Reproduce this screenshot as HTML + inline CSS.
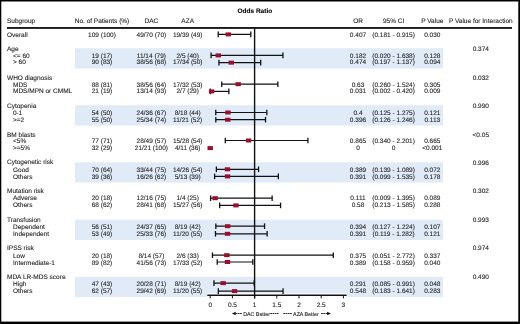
<!DOCTYPE html>
<html><head><meta charset="utf-8"><title>Odds Ratio forest plot</title>
<style>
html,body{margin:0;padding:0;background:#fff;}
body{width:520px;height:324px;overflow:hidden;}
svg{display:block;will-change:transform;font-family:"Liberation Sans",sans-serif;}
text{stroke:#1e1e1e;stroke-width:0.1px;text-rendering:geometricPrecision;}
</style></head>
<body>
<svg width="520" height="324" viewBox="0 0 520 324">
<rect x="0.00" y="0.00" width="520.00" height="324.00" fill="#000"/>
<rect x="1.30" y="1.50" width="517.00" height="320.10" fill="#fff"/>
<rect x="75.00" y="48.20" width="368.00" height="20.30" fill="#e1ebf8"/>
<rect x="75.00" y="105.23" width="368.00" height="20.30" fill="#e1ebf8"/>
<rect x="75.00" y="162.26" width="368.00" height="20.30" fill="#e1ebf8"/>
<rect x="75.00" y="219.69" width="368.00" height="20.30" fill="#e1ebf8"/>
<rect x="75.00" y="276.82" width="368.00" height="20.20" fill="#e1ebf8"/>
<text x="254.85" y="12.60" text-anchor="middle" font-size="6.5" font-weight="bold" fill="#000">Odds Ratio</text>
<text x="7.00" y="22.70" text-anchor="start" font-size="6.5" font-weight="normal" fill="#1e1e1e">Subgroup</text>
<text x="102.00" y="22.70" text-anchor="middle" font-size="6.5" font-weight="normal" fill="#1e1e1e">No. of Patients (%)</text>
<text x="151.40" y="22.70" text-anchor="middle" font-size="6.5" font-weight="normal" fill="#1e1e1e">DAC</text>
<text x="187.70" y="22.70" text-anchor="middle" font-size="6.5" font-weight="normal" fill="#1e1e1e">AZA</text>
<text x="358.00" y="22.70" text-anchor="middle" font-size="6.5" font-weight="normal" fill="#1e1e1e">OR</text>
<text x="393.60" y="22.70" text-anchor="middle" font-size="6.5" font-weight="normal" fill="#1e1e1e">95% CI</text>
<text x="432.30" y="22.70" text-anchor="middle" font-size="6.5" font-weight="normal" fill="#1e1e1e">P Value</text>
<text x="480.80" y="22.70" text-anchor="middle" font-size="6.5" font-weight="normal" fill="#1e1e1e">P Value for Interaction</text>
<rect x="7.00" y="27.00" width="505.00" height="1.90" fill="#1a1a1a"/>
<text x="7.00" y="36.75" text-anchor="start" font-size="6.5" font-weight="normal" fill="#1e1e1e">Overall</text>
<text x="102.00" y="36.75" text-anchor="middle" font-size="6.5" font-weight="normal" fill="#1e1e1e">109 (100)</text>
<text x="151.40" y="36.75" text-anchor="middle" font-size="6.5" font-weight="normal" fill="#1e1e1e">49/70 (70)</text>
<text x="187.70" y="36.75" text-anchor="middle" font-size="6.5" font-weight="normal" fill="#1e1e1e">19/39 (49)</text>
<text x="358.00" y="36.75" text-anchor="middle" font-size="6.5" font-weight="normal" fill="#1e1e1e">0.407</text>
<text x="393.60" y="36.75" text-anchor="middle" font-size="6.5" font-weight="normal" fill="#1e1e1e">(0.181 - 0.915)</text>
<text x="432.30" y="36.75" text-anchor="middle" font-size="6.5" font-weight="normal" fill="#1e1e1e">0.030</text>
<text x="7.00" y="51.10" text-anchor="start" font-size="6.5" font-weight="normal" fill="#1e1e1e">Age</text>
<text x="480.80" y="51.10" text-anchor="middle" font-size="6.5" font-weight="normal" fill="#1e1e1e">0.374</text>
<text x="13.00" y="58.24" text-anchor="start" font-size="6.5" font-weight="normal" fill="#1e1e1e">&lt;= 60</text>
<text x="102.00" y="58.24" text-anchor="middle" font-size="6.5" font-weight="normal" fill="#1e1e1e">19 (17)</text>
<text x="151.40" y="58.24" text-anchor="middle" font-size="6.5" font-weight="normal" fill="#1e1e1e">11/14 (79)</text>
<text x="187.70" y="58.24" text-anchor="middle" font-size="6.5" font-weight="normal" fill="#1e1e1e">2/5 (40)</text>
<text x="358.00" y="58.24" text-anchor="middle" font-size="6.5" font-weight="normal" fill="#1e1e1e">0.182</text>
<text x="393.60" y="58.24" text-anchor="middle" font-size="6.5" font-weight="normal" fill="#1e1e1e">(0.020 - 1.638)</text>
<text x="432.30" y="58.24" text-anchor="middle" font-size="6.5" font-weight="normal" fill="#1e1e1e">0.128</text>
<text x="13.00" y="64.10" text-anchor="start" font-size="6.5" font-weight="normal" fill="#1e1e1e">&gt; 60</text>
<text x="102.00" y="64.10" text-anchor="middle" font-size="6.5" font-weight="normal" fill="#1e1e1e">90 (83)</text>
<text x="151.40" y="64.10" text-anchor="middle" font-size="6.5" font-weight="normal" fill="#1e1e1e">38/56 (68)</text>
<text x="187.70" y="64.10" text-anchor="middle" font-size="6.5" font-weight="normal" fill="#1e1e1e">17/34 (50)</text>
<text x="358.00" y="64.10" text-anchor="middle" font-size="6.5" font-weight="normal" fill="#1e1e1e">0.474</text>
<text x="393.60" y="64.10" text-anchor="middle" font-size="6.5" font-weight="normal" fill="#1e1e1e">(0.197 - 1.137)</text>
<text x="432.30" y="64.10" text-anchor="middle" font-size="6.5" font-weight="normal" fill="#1e1e1e">0.094</text>
<text x="7.00" y="79.58" text-anchor="start" font-size="6.5" font-weight="normal" fill="#1e1e1e">WHO diagnosis</text>
<text x="480.80" y="79.58" text-anchor="middle" font-size="6.5" font-weight="normal" fill="#1e1e1e">0.032</text>
<text x="13.00" y="86.52" text-anchor="start" font-size="6.5" font-weight="normal" fill="#1e1e1e">MDS</text>
<text x="102.00" y="86.52" text-anchor="middle" font-size="6.5" font-weight="normal" fill="#1e1e1e">88 (81)</text>
<text x="151.40" y="86.52" text-anchor="middle" font-size="6.5" font-weight="normal" fill="#1e1e1e">38/56 (64)</text>
<text x="187.70" y="86.52" text-anchor="middle" font-size="6.5" font-weight="normal" fill="#1e1e1e">17/32 (53)</text>
<text x="358.00" y="86.52" text-anchor="middle" font-size="6.5" font-weight="normal" fill="#1e1e1e">0.63</text>
<text x="393.60" y="86.52" text-anchor="middle" font-size="6.5" font-weight="normal" fill="#1e1e1e">(0.260 - 1.524)</text>
<text x="432.30" y="86.52" text-anchor="middle" font-size="6.5" font-weight="normal" fill="#1e1e1e">0.305</text>
<text x="13.00" y="93.47" text-anchor="start" font-size="6.5" font-weight="normal" fill="#1e1e1e">MDS/MPN or CMML</text>
<text x="102.00" y="93.47" text-anchor="middle" font-size="6.5" font-weight="normal" fill="#1e1e1e">21 (19)</text>
<text x="151.40" y="93.47" text-anchor="middle" font-size="6.5" font-weight="normal" fill="#1e1e1e">13/14 (93)</text>
<text x="187.70" y="93.47" text-anchor="middle" font-size="6.5" font-weight="normal" fill="#1e1e1e">2/7 (29)</text>
<text x="358.00" y="93.47" text-anchor="middle" font-size="6.5" font-weight="normal" fill="#1e1e1e">0.031</text>
<text x="393.60" y="93.47" text-anchor="middle" font-size="6.5" font-weight="normal" fill="#1e1e1e">(0.002 - 0.420)</text>
<text x="432.30" y="93.47" text-anchor="middle" font-size="6.5" font-weight="normal" fill="#1e1e1e">0.009</text>
<text x="7.00" y="108.05" text-anchor="start" font-size="6.5" font-weight="normal" fill="#1e1e1e">Cytopenia</text>
<text x="480.80" y="108.05" text-anchor="middle" font-size="6.5" font-weight="normal" fill="#1e1e1e">0.990</text>
<text x="13.00" y="115.19" text-anchor="start" font-size="6.5" font-weight="normal" fill="#1e1e1e">0-1</text>
<text x="102.00" y="115.19" text-anchor="middle" font-size="6.5" font-weight="normal" fill="#1e1e1e">54 (50)</text>
<text x="151.40" y="115.19" text-anchor="middle" font-size="6.5" font-weight="normal" fill="#1e1e1e">24/36 (67)</text>
<text x="187.70" y="115.19" text-anchor="middle" font-size="6.5" font-weight="normal" fill="#1e1e1e">8/18 (44)</text>
<text x="358.00" y="115.19" text-anchor="middle" font-size="6.5" font-weight="normal" fill="#1e1e1e">0.4</text>
<text x="393.60" y="115.19" text-anchor="middle" font-size="6.5" font-weight="normal" fill="#1e1e1e">(0.125 - 1.275)</text>
<text x="432.30" y="115.19" text-anchor="middle" font-size="6.5" font-weight="normal" fill="#1e1e1e">0.121</text>
<text x="13.00" y="122.15" text-anchor="start" font-size="6.5" font-weight="normal" fill="#1e1e1e">&gt;=2</text>
<text x="102.00" y="122.15" text-anchor="middle" font-size="6.5" font-weight="normal" fill="#1e1e1e">55 (50)</text>
<text x="151.40" y="122.15" text-anchor="middle" font-size="6.5" font-weight="normal" fill="#1e1e1e">25/34 (74)</text>
<text x="187.70" y="122.15" text-anchor="middle" font-size="6.5" font-weight="normal" fill="#1e1e1e">11/21 (52)</text>
<text x="358.00" y="122.15" text-anchor="middle" font-size="6.5" font-weight="normal" fill="#1e1e1e">0.396</text>
<text x="393.60" y="122.15" text-anchor="middle" font-size="6.5" font-weight="normal" fill="#1e1e1e">(0.126 - 1.246)</text>
<text x="432.30" y="122.15" text-anchor="middle" font-size="6.5" font-weight="normal" fill="#1e1e1e">0.113</text>
<text x="7.00" y="136.53" text-anchor="start" font-size="6.5" font-weight="normal" fill="#1e1e1e">BM blasts</text>
<text x="480.80" y="136.53" text-anchor="middle" font-size="6.5" font-weight="normal" fill="#1e1e1e">&lt;0.05</text>
<text x="13.00" y="142.97" text-anchor="start" font-size="6.5" font-weight="normal" fill="#1e1e1e">&lt;5%</text>
<text x="102.00" y="142.97" text-anchor="middle" font-size="6.5" font-weight="normal" fill="#1e1e1e">77 (71)</text>
<text x="151.40" y="142.97" text-anchor="middle" font-size="6.5" font-weight="normal" fill="#1e1e1e">28/49 (57)</text>
<text x="187.70" y="142.97" text-anchor="middle" font-size="6.5" font-weight="normal" fill="#1e1e1e">15/28 (54)</text>
<text x="358.00" y="142.97" text-anchor="middle" font-size="6.5" font-weight="normal" fill="#1e1e1e">0.865</text>
<text x="393.60" y="142.97" text-anchor="middle" font-size="6.5" font-weight="normal" fill="#1e1e1e">(0.340 - 2.201)</text>
<text x="432.30" y="142.97" text-anchor="middle" font-size="6.5" font-weight="normal" fill="#1e1e1e">0.665</text>
<text x="13.00" y="149.93" text-anchor="start" font-size="6.5" font-weight="normal" fill="#1e1e1e">&gt;=5%</text>
<text x="102.00" y="149.93" text-anchor="middle" font-size="6.5" font-weight="normal" fill="#1e1e1e">32 (29)</text>
<text x="151.40" y="149.93" text-anchor="middle" font-size="6.5" font-weight="normal" fill="#1e1e1e">21/21 (100)</text>
<text x="187.70" y="149.93" text-anchor="middle" font-size="6.5" font-weight="normal" fill="#1e1e1e">4/11 (36)</text>
<text x="358.00" y="149.93" text-anchor="middle" font-size="6.5" font-weight="normal" fill="#1e1e1e">0</text>
<text x="393.60" y="149.93" text-anchor="middle" font-size="6.5" font-weight="normal" fill="#1e1e1e">0</text>
<text x="432.30" y="149.93" text-anchor="middle" font-size="6.5" font-weight="normal" fill="#1e1e1e">&lt;0.001</text>
<text x="7.00" y="163.90" text-anchor="start" font-size="6.5" font-weight="normal" fill="#1e1e1e">Cytogenetic risk</text>
<text x="480.80" y="164.70" text-anchor="middle" font-size="6.5" font-weight="normal" fill="#1e1e1e">0.996</text>
<text x="13.00" y="171.74" text-anchor="start" font-size="6.5" font-weight="normal" fill="#1e1e1e">Good</text>
<text x="102.00" y="171.74" text-anchor="middle" font-size="6.5" font-weight="normal" fill="#1e1e1e">70 (64)</text>
<text x="151.40" y="171.74" text-anchor="middle" font-size="6.5" font-weight="normal" fill="#1e1e1e">33/44 (75)</text>
<text x="187.70" y="171.74" text-anchor="middle" font-size="6.5" font-weight="normal" fill="#1e1e1e">14/26 (54)</text>
<text x="358.00" y="171.74" text-anchor="middle" font-size="6.5" font-weight="normal" fill="#1e1e1e">0.389</text>
<text x="393.60" y="171.74" text-anchor="middle" font-size="6.5" font-weight="normal" fill="#1e1e1e">(0.139 - 1.089)</text>
<text x="432.30" y="171.74" text-anchor="middle" font-size="6.5" font-weight="normal" fill="#1e1e1e">0.072</text>
<text x="13.00" y="178.70" text-anchor="start" font-size="6.5" font-weight="normal" fill="#1e1e1e">Others</text>
<text x="102.00" y="178.70" text-anchor="middle" font-size="6.5" font-weight="normal" fill="#1e1e1e">39 (36)</text>
<text x="151.40" y="178.70" text-anchor="middle" font-size="6.5" font-weight="normal" fill="#1e1e1e">16/26 (62)</text>
<text x="187.70" y="178.70" text-anchor="middle" font-size="6.5" font-weight="normal" fill="#1e1e1e">5/13 (39)</text>
<text x="358.00" y="178.70" text-anchor="middle" font-size="6.5" font-weight="normal" fill="#1e1e1e">0.391</text>
<text x="393.60" y="178.70" text-anchor="middle" font-size="6.5" font-weight="normal" fill="#1e1e1e">(0.099 - 1.535)</text>
<text x="432.30" y="178.70" text-anchor="middle" font-size="6.5" font-weight="normal" fill="#1e1e1e">0.178</text>
<text x="7.00" y="193.47" text-anchor="start" font-size="6.5" font-weight="normal" fill="#1e1e1e">Mutation risk</text>
<text x="480.80" y="193.47" text-anchor="middle" font-size="6.5" font-weight="normal" fill="#1e1e1e">0.302</text>
<text x="13.00" y="200.21" text-anchor="start" font-size="6.5" font-weight="normal" fill="#1e1e1e">Adverse</text>
<text x="102.00" y="200.21" text-anchor="middle" font-size="6.5" font-weight="normal" fill="#1e1e1e">20 (18)</text>
<text x="151.40" y="200.21" text-anchor="middle" font-size="6.5" font-weight="normal" fill="#1e1e1e">12/16 (75)</text>
<text x="187.70" y="200.21" text-anchor="middle" font-size="6.5" font-weight="normal" fill="#1e1e1e">1/4 (25)</text>
<text x="358.00" y="200.21" text-anchor="middle" font-size="6.5" font-weight="normal" fill="#1e1e1e">0.111</text>
<text x="393.60" y="200.21" text-anchor="middle" font-size="6.5" font-weight="normal" fill="#1e1e1e">(0.009 - 1.395)</text>
<text x="432.30" y="200.21" text-anchor="middle" font-size="6.5" font-weight="normal" fill="#1e1e1e">0.089</text>
<text x="13.00" y="207.17" text-anchor="start" font-size="6.5" font-weight="normal" fill="#1e1e1e">Others</text>
<text x="102.00" y="207.17" text-anchor="middle" font-size="6.5" font-weight="normal" fill="#1e1e1e">68 (62)</text>
<text x="151.40" y="207.17" text-anchor="middle" font-size="6.5" font-weight="normal" fill="#1e1e1e">28/41 (68)</text>
<text x="187.70" y="207.17" text-anchor="middle" font-size="6.5" font-weight="normal" fill="#1e1e1e">15/27 (56)</text>
<text x="358.00" y="207.17" text-anchor="middle" font-size="6.5" font-weight="normal" fill="#1e1e1e">0.58</text>
<text x="393.60" y="207.17" text-anchor="middle" font-size="6.5" font-weight="normal" fill="#1e1e1e">(0.213 - 1.585)</text>
<text x="432.30" y="207.17" text-anchor="middle" font-size="6.5" font-weight="normal" fill="#1e1e1e">0.288</text>
<text x="7.00" y="221.95" text-anchor="start" font-size="6.5" font-weight="normal" fill="#1e1e1e">Transfusion</text>
<text x="480.80" y="221.95" text-anchor="middle" font-size="6.5" font-weight="normal" fill="#1e1e1e">0.993</text>
<text x="13.00" y="229.09" text-anchor="start" font-size="6.5" font-weight="normal" fill="#1e1e1e">Dependent</text>
<text x="102.00" y="229.09" text-anchor="middle" font-size="6.5" font-weight="normal" fill="#1e1e1e">56 (51)</text>
<text x="151.40" y="229.09" text-anchor="middle" font-size="6.5" font-weight="normal" fill="#1e1e1e">24/37 (65)</text>
<text x="187.70" y="229.09" text-anchor="middle" font-size="6.5" font-weight="normal" fill="#1e1e1e">8/19 (42)</text>
<text x="358.00" y="229.09" text-anchor="middle" font-size="6.5" font-weight="normal" fill="#1e1e1e">0.394</text>
<text x="393.60" y="229.09" text-anchor="middle" font-size="6.5" font-weight="normal" fill="#1e1e1e">(0.127 - 1.224)</text>
<text x="432.30" y="229.09" text-anchor="middle" font-size="6.5" font-weight="normal" fill="#1e1e1e">0.107</text>
<text x="13.00" y="236.05" text-anchor="start" font-size="6.5" font-weight="normal" fill="#1e1e1e">Independent</text>
<text x="102.00" y="236.05" text-anchor="middle" font-size="6.5" font-weight="normal" fill="#1e1e1e">53 (49)</text>
<text x="151.40" y="236.05" text-anchor="middle" font-size="6.5" font-weight="normal" fill="#1e1e1e">25/33 (76)</text>
<text x="187.70" y="236.05" text-anchor="middle" font-size="6.5" font-weight="normal" fill="#1e1e1e">11/20 (55)</text>
<text x="358.00" y="236.05" text-anchor="middle" font-size="6.5" font-weight="normal" fill="#1e1e1e">0.391</text>
<text x="393.60" y="236.05" text-anchor="middle" font-size="6.5" font-weight="normal" fill="#1e1e1e">(0.119 - 1.282)</text>
<text x="432.30" y="236.05" text-anchor="middle" font-size="6.5" font-weight="normal" fill="#1e1e1e">0.121</text>
<text x="7.00" y="250.43" text-anchor="start" font-size="6.5" font-weight="normal" fill="#1e1e1e">IPSS risk</text>
<text x="480.80" y="250.43" text-anchor="middle" font-size="6.5" font-weight="normal" fill="#1e1e1e">0.974</text>
<text x="13.00" y="257.56" text-anchor="start" font-size="6.5" font-weight="normal" fill="#1e1e1e">Low</text>
<text x="102.00" y="257.56" text-anchor="middle" font-size="6.5" font-weight="normal" fill="#1e1e1e">20 (18)</text>
<text x="151.40" y="257.56" text-anchor="middle" font-size="6.5" font-weight="normal" fill="#1e1e1e">8/14 (57)</text>
<text x="187.70" y="257.56" text-anchor="middle" font-size="6.5" font-weight="normal" fill="#1e1e1e">2/6 (33)</text>
<text x="358.00" y="257.56" text-anchor="middle" font-size="6.5" font-weight="normal" fill="#1e1e1e">0.375</text>
<text x="393.60" y="257.56" text-anchor="middle" font-size="6.5" font-weight="normal" fill="#1e1e1e">(0.051 - 2.772)</text>
<text x="432.30" y="257.56" text-anchor="middle" font-size="6.5" font-weight="normal" fill="#1e1e1e">0.337</text>
<text x="13.00" y="264.53" text-anchor="start" font-size="6.5" font-weight="normal" fill="#1e1e1e">Intermediate-1</text>
<text x="102.00" y="264.53" text-anchor="middle" font-size="6.5" font-weight="normal" fill="#1e1e1e">89 (82)</text>
<text x="151.40" y="264.53" text-anchor="middle" font-size="6.5" font-weight="normal" fill="#1e1e1e">41/56 (73)</text>
<text x="187.70" y="264.53" text-anchor="middle" font-size="6.5" font-weight="normal" fill="#1e1e1e">17/33 (52)</text>
<text x="358.00" y="264.53" text-anchor="middle" font-size="6.5" font-weight="normal" fill="#1e1e1e">0.389</text>
<text x="393.60" y="264.53" text-anchor="middle" font-size="6.5" font-weight="normal" fill="#1e1e1e">(0.158 - 0.959)</text>
<text x="432.30" y="264.53" text-anchor="middle" font-size="6.5" font-weight="normal" fill="#1e1e1e">0.040</text>
<text x="7.00" y="278.90" text-anchor="start" font-size="6.5" font-weight="normal" fill="#1e1e1e">MDA LR-MDS score</text>
<text x="480.80" y="278.90" text-anchor="middle" font-size="6.5" font-weight="normal" fill="#1e1e1e">0.490</text>
<text x="13.00" y="286.04" text-anchor="start" font-size="6.5" font-weight="normal" fill="#1e1e1e">High</text>
<text x="102.00" y="286.04" text-anchor="middle" font-size="6.5" font-weight="normal" fill="#1e1e1e">47 (43)</text>
<text x="151.40" y="286.04" text-anchor="middle" font-size="6.5" font-weight="normal" fill="#1e1e1e">20/28 (71)</text>
<text x="187.70" y="286.04" text-anchor="middle" font-size="6.5" font-weight="normal" fill="#1e1e1e">8/19 (42)</text>
<text x="358.00" y="286.04" text-anchor="middle" font-size="6.5" font-weight="normal" fill="#1e1e1e">0.291</text>
<text x="393.60" y="286.04" text-anchor="middle" font-size="6.5" font-weight="normal" fill="#1e1e1e">(0.085 - 0.991)</text>
<text x="432.30" y="286.04" text-anchor="middle" font-size="6.5" font-weight="normal" fill="#1e1e1e">0.048</text>
<text x="13.00" y="293.00" text-anchor="start" font-size="6.5" font-weight="normal" fill="#1e1e1e">Others</text>
<text x="102.00" y="293.00" text-anchor="middle" font-size="6.5" font-weight="normal" fill="#1e1e1e">62 (57)</text>
<text x="151.40" y="293.00" text-anchor="middle" font-size="6.5" font-weight="normal" fill="#1e1e1e">29/42 (69)</text>
<text x="187.70" y="293.00" text-anchor="middle" font-size="6.5" font-weight="normal" fill="#1e1e1e">11/20 (55)</text>
<text x="358.00" y="293.00" text-anchor="middle" font-size="6.5" font-weight="normal" fill="#1e1e1e">0.548</text>
<text x="393.60" y="293.00" text-anchor="middle" font-size="6.5" font-weight="normal" fill="#1e1e1e">(0.183 - 1.641)</text>
<text x="432.30" y="293.00" text-anchor="middle" font-size="6.5" font-weight="normal" fill="#1e1e1e">0.283</text>
<rect x="207.00" y="293.30" width="139.80" height="4.50" fill="#fff"/>
<line x1="254.60" y1="27.50" x2="254.60" y2="298.50" stroke="#111" stroke-width="1.4"/>
<line x1="207.30" y1="295.20" x2="346.60" y2="295.20" stroke="#111" stroke-width="1.4"/>
<line x1="210.20" y1="295.20" x2="210.20" y2="298.40" stroke="#111" stroke-width="1.0"/>
<text x="210.20" y="307.30" text-anchor="middle" font-size="6.5" font-weight="normal" fill="#1e1e1e">0</text>
<line x1="232.40" y1="295.20" x2="232.40" y2="298.40" stroke="#111" stroke-width="1.0"/>
<text x="232.40" y="307.30" text-anchor="middle" font-size="6.5" font-weight="normal" fill="#1e1e1e">0.5</text>
<line x1="254.60" y1="295.20" x2="254.60" y2="298.40" stroke="#111" stroke-width="1.0"/>
<text x="254.60" y="307.30" text-anchor="middle" font-size="6.5" font-weight="normal" fill="#1e1e1e">1</text>
<line x1="276.80" y1="295.20" x2="276.80" y2="298.40" stroke="#111" stroke-width="1.0"/>
<text x="276.80" y="307.30" text-anchor="middle" font-size="6.5" font-weight="normal" fill="#1e1e1e">1.5</text>
<line x1="299.00" y1="295.20" x2="299.00" y2="298.40" stroke="#111" stroke-width="1.0"/>
<text x="299.00" y="307.30" text-anchor="middle" font-size="6.5" font-weight="normal" fill="#1e1e1e">2</text>
<line x1="321.20" y1="295.20" x2="321.20" y2="298.40" stroke="#111" stroke-width="1.0"/>
<text x="321.20" y="307.30" text-anchor="middle" font-size="6.5" font-weight="normal" fill="#1e1e1e">2.5</text>
<line x1="343.40" y1="295.20" x2="343.40" y2="298.40" stroke="#111" stroke-width="1.0"/>
<text x="343.40" y="307.30" text-anchor="middle" font-size="6.5" font-weight="normal" fill="#1e1e1e">3</text>
<line x1="218.24" y1="34.40" x2="250.83" y2="34.40" stroke="#111" stroke-width="1.2"/>
<line x1="218.24" y1="31.60" x2="218.24" y2="37.20" stroke="#111" stroke-width="1.3"/>
<line x1="250.83" y1="31.60" x2="250.83" y2="37.20" stroke="#111" stroke-width="1.3"/>
<rect x="225.57" y="32.40" width="5.40" height="4.00" fill="#9a0e2e"/>
<line x1="211.09" y1="55.40" x2="282.93" y2="55.40" stroke="#111" stroke-width="1.2"/>
<line x1="211.09" y1="52.60" x2="211.09" y2="58.20" stroke="#111" stroke-width="1.3"/>
<line x1="282.93" y1="52.60" x2="282.93" y2="58.20" stroke="#111" stroke-width="1.3"/>
<rect x="215.58" y="53.40" width="5.40" height="4.00" fill="#9a0e2e"/>
<line x1="218.95" y1="62.65" x2="260.68" y2="62.65" stroke="#111" stroke-width="1.2"/>
<line x1="218.95" y1="59.85" x2="218.95" y2="65.45" stroke="#111" stroke-width="1.3"/>
<line x1="260.68" y1="59.85" x2="260.68" y2="65.45" stroke="#111" stroke-width="1.3"/>
<rect x="228.55" y="60.65" width="5.40" height="4.00" fill="#9a0e2e"/>
<line x1="221.74" y1="84.20" x2="277.87" y2="84.20" stroke="#111" stroke-width="1.2"/>
<line x1="221.74" y1="81.40" x2="221.74" y2="87.00" stroke="#111" stroke-width="1.3"/>
<line x1="277.87" y1="81.40" x2="277.87" y2="87.00" stroke="#111" stroke-width="1.3"/>
<rect x="235.47" y="82.20" width="5.40" height="4.00" fill="#9a0e2e"/>
<line x1="210.29" y1="91.40" x2="228.85" y2="91.40" stroke="#111" stroke-width="1.2"/>
<line x1="210.29" y1="88.60" x2="210.29" y2="94.20" stroke="#111" stroke-width="1.3"/>
<line x1="228.85" y1="88.60" x2="228.85" y2="94.20" stroke="#111" stroke-width="1.3"/>
<rect x="208.88" y="89.40" width="5.40" height="4.00" fill="#9a0e2e"/>
<line x1="215.75" y1="112.50" x2="266.81" y2="112.50" stroke="#111" stroke-width="1.2"/>
<line x1="215.75" y1="109.70" x2="215.75" y2="115.30" stroke="#111" stroke-width="1.3"/>
<line x1="266.81" y1="109.70" x2="266.81" y2="115.30" stroke="#111" stroke-width="1.3"/>
<rect x="225.26" y="110.50" width="5.40" height="4.00" fill="#9a0e2e"/>
<line x1="215.79" y1="119.70" x2="265.52" y2="119.70" stroke="#111" stroke-width="1.2"/>
<line x1="215.79" y1="116.90" x2="215.79" y2="122.50" stroke="#111" stroke-width="1.3"/>
<line x1="265.52" y1="116.90" x2="265.52" y2="122.50" stroke="#111" stroke-width="1.3"/>
<rect x="225.08" y="117.70" width="5.40" height="4.00" fill="#9a0e2e"/>
<line x1="225.30" y1="140.50" x2="307.92" y2="140.50" stroke="#111" stroke-width="1.2"/>
<line x1="225.30" y1="137.70" x2="225.30" y2="143.30" stroke="#111" stroke-width="1.3"/>
<line x1="307.92" y1="137.70" x2="307.92" y2="143.30" stroke="#111" stroke-width="1.3"/>
<rect x="245.91" y="138.50" width="5.40" height="4.00" fill="#9a0e2e"/>
<rect x="207.50" y="146.10" width="5.40" height="4.00" fill="#9a0e2e"/>
<line x1="216.37" y1="169.30" x2="258.55" y2="169.30" stroke="#111" stroke-width="1.2"/>
<line x1="216.37" y1="166.50" x2="216.37" y2="172.10" stroke="#111" stroke-width="1.3"/>
<line x1="258.55" y1="166.50" x2="258.55" y2="172.10" stroke="#111" stroke-width="1.3"/>
<rect x="224.77" y="167.30" width="5.40" height="4.00" fill="#9a0e2e"/>
<line x1="214.60" y1="176.40" x2="278.35" y2="176.40" stroke="#111" stroke-width="1.2"/>
<line x1="214.60" y1="173.60" x2="214.60" y2="179.20" stroke="#111" stroke-width="1.3"/>
<line x1="278.35" y1="173.60" x2="278.35" y2="179.20" stroke="#111" stroke-width="1.3"/>
<rect x="224.86" y="174.40" width="5.40" height="4.00" fill="#9a0e2e"/>
<line x1="210.60" y1="198.20" x2="272.14" y2="198.20" stroke="#111" stroke-width="1.2"/>
<line x1="210.60" y1="195.40" x2="210.60" y2="201.00" stroke="#111" stroke-width="1.3"/>
<line x1="272.14" y1="195.40" x2="272.14" y2="201.00" stroke="#111" stroke-width="1.3"/>
<rect x="212.43" y="196.20" width="5.40" height="4.00" fill="#9a0e2e"/>
<line x1="219.66" y1="205.40" x2="280.57" y2="205.40" stroke="#111" stroke-width="1.2"/>
<line x1="219.66" y1="202.60" x2="219.66" y2="208.20" stroke="#111" stroke-width="1.3"/>
<line x1="280.57" y1="202.60" x2="280.57" y2="208.20" stroke="#111" stroke-width="1.3"/>
<rect x="233.25" y="203.40" width="5.40" height="4.00" fill="#9a0e2e"/>
<line x1="215.84" y1="226.20" x2="264.55" y2="226.20" stroke="#111" stroke-width="1.2"/>
<line x1="215.84" y1="223.40" x2="215.84" y2="229.00" stroke="#111" stroke-width="1.3"/>
<line x1="264.55" y1="223.40" x2="264.55" y2="229.00" stroke="#111" stroke-width="1.3"/>
<rect x="224.99" y="224.20" width="5.40" height="4.00" fill="#9a0e2e"/>
<line x1="215.48" y1="233.80" x2="267.12" y2="233.80" stroke="#111" stroke-width="1.2"/>
<line x1="215.48" y1="231.00" x2="215.48" y2="236.60" stroke="#111" stroke-width="1.3"/>
<line x1="267.12" y1="231.00" x2="267.12" y2="236.60" stroke="#111" stroke-width="1.3"/>
<rect x="224.86" y="231.80" width="5.40" height="4.00" fill="#9a0e2e"/>
<line x1="212.46" y1="255.20" x2="333.28" y2="255.20" stroke="#111" stroke-width="1.2"/>
<line x1="212.46" y1="252.40" x2="212.46" y2="258.00" stroke="#111" stroke-width="1.3"/>
<line x1="333.28" y1="252.40" x2="333.28" y2="258.00" stroke="#111" stroke-width="1.3"/>
<rect x="224.15" y="253.20" width="5.40" height="4.00" fill="#9a0e2e"/>
<line x1="217.22" y1="262.00" x2="252.78" y2="262.00" stroke="#111" stroke-width="1.2"/>
<line x1="217.22" y1="259.20" x2="217.22" y2="264.80" stroke="#111" stroke-width="1.3"/>
<line x1="252.78" y1="259.20" x2="252.78" y2="264.80" stroke="#111" stroke-width="1.3"/>
<rect x="224.77" y="260.00" width="5.40" height="4.00" fill="#9a0e2e"/>
<line x1="213.97" y1="283.15" x2="254.20" y2="283.15" stroke="#111" stroke-width="1.2"/>
<line x1="213.97" y1="280.35" x2="213.97" y2="285.95" stroke="#111" stroke-width="1.3"/>
<line x1="254.20" y1="280.35" x2="254.20" y2="285.95" stroke="#111" stroke-width="1.3"/>
<rect x="220.42" y="281.15" width="5.40" height="4.00" fill="#9a0e2e"/>
<line x1="218.33" y1="291.10" x2="283.06" y2="291.10" stroke="#111" stroke-width="1.2"/>
<line x1="218.33" y1="288.30" x2="218.33" y2="293.90" stroke="#111" stroke-width="1.3"/>
<line x1="283.06" y1="288.30" x2="283.06" y2="293.90" stroke="#111" stroke-width="1.3"/>
<rect x="231.83" y="289.10" width="5.40" height="4.00" fill="#9a0e2e"/>
<text x="243.20" y="315.50" text-anchor="start" font-size="5.3" font-weight="normal" fill="#1e1e1e">DAC Better</text>
<text x="293.10" y="315.50" text-anchor="start" font-size="5.3" font-weight="normal" fill="#1e1e1e">AZA Better</text>
<polygon points="231.9,313.5 235.7,311.75 235.7,315.25" fill="#111"/>
<line x1="235.50" y1="313.50" x2="242.00" y2="313.50" stroke="#222" stroke-width="0.95" stroke-dasharray="1.8 0.45"/>
<line x1="270.20" y1="313.50" x2="278.60" y2="313.50" stroke="#222" stroke-width="0.95" stroke-dasharray="1.8 0.45"/>
<line x1="283.30" y1="313.50" x2="291.80" y2="313.50" stroke="#222" stroke-width="0.95" stroke-dasharray="1.8 0.45"/>
<line x1="321.10" y1="313.50" x2="327.90" y2="313.50" stroke="#222" stroke-width="0.95" stroke-dasharray="1.8 0.45"/>
<polygon points="330.9,313.5 327.1,311.75 327.1,315.25" fill="#111"/>
</svg>
</body></html>
